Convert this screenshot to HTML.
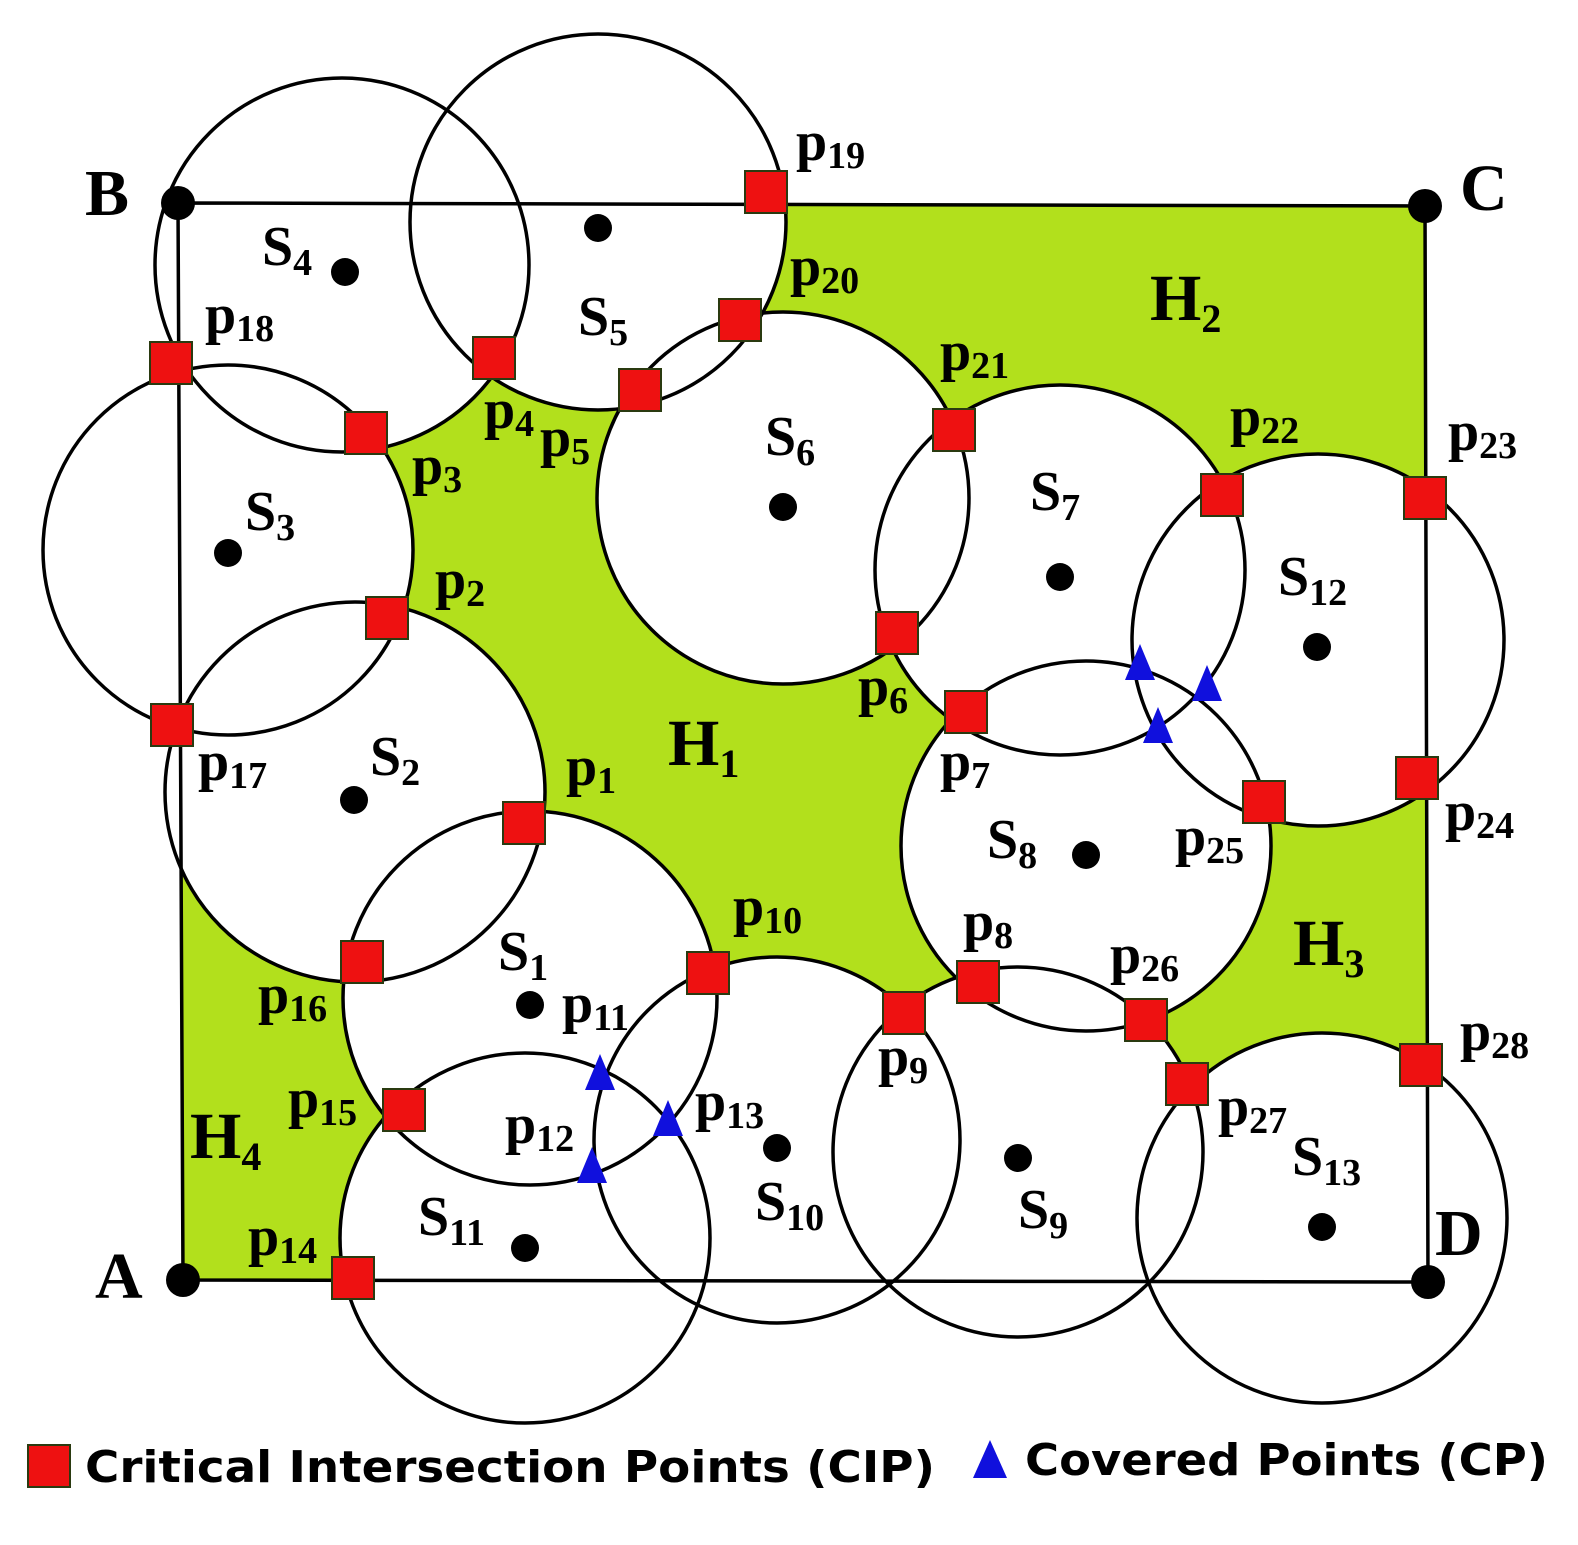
<!DOCTYPE html>
<html><head><meta charset="utf-8"><style>
html,body{margin:0;padding:0;background:#fff;}
svg{display:block;}
.l{font-family:"Liberation Serif",serif;font-weight:bold;font-size:56px;fill:#000;}
.s{font-size:38px;}
.h{font-size:66px;}
.hs{font-size:40px;}
</style></head><body>
<svg width="1578" height="1545" viewBox="0 0 1578 1545" xmlns="http://www.w3.org/2000/svg">
<polygon points="183,1280 178,203 1425,206 1428,1282" fill="#b2e01c"/>
<g fill="#fff" stroke="none">
<circle cx="342" cy="265" r="187"/><circle cx="598" cy="222" r="188"/>
<circle cx="228" cy="550" r="185"/><circle cx="355" cy="792" r="190"/>
<circle cx="783" cy="498" r="186"/><circle cx="1060" cy="570" r="185"/>
<circle cx="1318" cy="640" r="186"/><circle cx="1086" cy="846" r="185"/>
<circle cx="530" cy="998" r="187"/><circle cx="525" cy="1238" r="185"/>
<circle cx="777" cy="1140" r="183"/><circle cx="1018" cy="1152" r="185"/>
<circle cx="1322" cy="1218" r="185"/>
</g>
<polygon points="183,1280 178,203 1425,206 1428,1282" fill="none" stroke="#000" stroke-width="3.5"/>
<g fill="none" stroke="#000" stroke-width="3.5">
<circle cx="342" cy="265" r="187"/><circle cx="598" cy="222" r="188"/>
<circle cx="228" cy="550" r="185"/><circle cx="355" cy="792" r="190"/>
<circle cx="783" cy="498" r="186"/><circle cx="1060" cy="570" r="185"/>
<circle cx="1318" cy="640" r="186"/><circle cx="1086" cy="846" r="185"/>
<circle cx="530" cy="998" r="187"/><circle cx="525" cy="1238" r="185"/>
<circle cx="777" cy="1140" r="183"/><circle cx="1018" cy="1152" r="185"/>
<circle cx="1322" cy="1218" r="185"/>
</g>
<g fill="#000">
<circle cx="345" cy="272" r="14"/><circle cx="598" cy="228" r="14"/><circle cx="228" cy="553" r="14"/>
<circle cx="354" cy="800" r="14"/><circle cx="783" cy="507" r="14"/><circle cx="1060" cy="577" r="14"/>
<circle cx="1317" cy="647" r="14"/><circle cx="1086" cy="855" r="14"/><circle cx="530" cy="1005" r="14"/>
<circle cx="777" cy="1148" r="14"/><circle cx="1018" cy="1158" r="14"/><circle cx="525" cy="1248" r="14"/>
<circle cx="1322" cy="1227" r="14"/>
<circle cx="183" cy="1280" r="17"/><circle cx="178" cy="203" r="17"/><circle cx="1425" cy="206" r="17"/><circle cx="1428" cy="1282" r="17"/>
</g>
<g fill="#ee1111" stroke="#2a3a10" stroke-width="2">
<rect x="503" y="802" width="42" height="42"/><rect x="366" y="597" width="42" height="42"/>
<rect x="345" y="412" width="42" height="42"/><rect x="473" y="337" width="42" height="42"/>
<rect x="619" y="369" width="42" height="42"/><rect x="876" y="612" width="42" height="42"/>
<rect x="945" y="691" width="42" height="42"/><rect x="957" y="961" width="42" height="42"/>
<rect x="883" y="992" width="42" height="42"/><rect x="687" y="952" width="42" height="42"/>
<rect x="332" y="1257" width="42" height="42"/><rect x="383" y="1089" width="42" height="42"/>
<rect x="341" y="941" width="42" height="42"/><rect x="151" y="704" width="42" height="42"/>
<rect x="150" y="342" width="42" height="42"/><rect x="745" y="171" width="42" height="42"/>
<rect x="719" y="299" width="42" height="42"/><rect x="933" y="409" width="42" height="42"/>
<rect x="1201" y="474" width="42" height="42"/><rect x="1404" y="477" width="42" height="42"/>
<rect x="1396" y="757" width="42" height="42"/><rect x="1243" y="781" width="42" height="42"/>
<rect x="1125" y="999" width="42" height="42"/><rect x="1166" y="1063" width="42" height="42"/>
<rect x="1400" y="1044" width="42" height="42"/>
<rect x="28" y="1445" width="42" height="42"/>
</g>
<g fill="#1010dd">
<polygon points="1140,644 1125,680 1155,680"/><polygon points="1207,665 1192,701 1222,701"/>
<polygon points="1158,707 1143,743 1173,743"/><polygon points="600,1054 585,1090 615,1090"/>
<polygon points="668,1100 653,1136 683,1136"/><polygon points="592,1147 577,1183 607,1183"/>
<polygon points="990,1440 973,1478 1007,1478"/>
</g>
<g class="l">
<text x="85" y="215" class="h">B</text><text x="1460" y="210" class="h">C</text>
<text x="95" y="1298" class="h">A</text><text x="1435" y="1255" class="h">D</text>
<text x="668" y="765" class="h">H<tspan class="hs" dy="12">1</tspan></text>
<text x="1150" y="320" class="h">H<tspan class="hs" dy="12">2</tspan></text>
<text x="1293" y="965" class="h">H<tspan class="hs" dy="12">3</tspan></text>
<text x="190" y="1158" class="h">H<tspan class="hs" dy="12">4</tspan></text>
<text x="262" y="265">S<tspan class="s" dy="10">4</tspan></text>
<text x="578" y="335">S<tspan class="s" dy="10">5</tspan></text>
<text x="245" y="530">S<tspan class="s" dy="10">3</tspan></text>
<text x="370" y="775">S<tspan class="s" dy="10">2</tspan></text>
<text x="765" y="455">S<tspan class="s" dy="10">6</tspan></text>
<text x="1030" y="510">S<tspan class="s" dy="10">7</tspan></text>
<text x="1278" y="595">S<tspan class="s" dy="10">12</tspan></text>
<text x="987" y="858">S<tspan class="s" dy="10">8</tspan></text>
<text x="498" y="970">S<tspan class="s" dy="10">1</tspan></text>
<text x="418" y="1235">S<tspan class="s" dy="10">11</tspan></text>
<text x="755" y="1220">S<tspan class="s" dy="10">10</tspan></text>
<text x="1018" y="1228">S<tspan class="s" dy="10">9</tspan></text>
<text x="1292" y="1175">S<tspan class="s" dy="10">13</tspan></text>
<text x="566" y="785">p<tspan class="s" dy="8">1</tspan></text>
<text x="435" y="598">p<tspan class="s" dy="8">2</tspan></text>
<text x="412" y="484">p<tspan class="s" dy="8">3</tspan></text>
<text x="484" y="428">p<tspan class="s" dy="8">4</tspan></text>
<text x="540" y="456">p<tspan class="s" dy="8">5</tspan></text>
<text x="858" y="705">p<tspan class="s" dy="8">6</tspan></text>
<text x="940" y="780">p<tspan class="s" dy="8">7</tspan></text>
<text x="963" y="940">p<tspan class="s" dy="8">8</tspan></text>
<text x="878" y="1075">p<tspan class="s" dy="8">9</tspan></text>
<text x="733" y="925">p<tspan class="s" dy="8">10</tspan></text>
<text x="562" y="1022">p<tspan class="s" dy="8">11</tspan></text>
<text x="505" y="1143">p<tspan class="s" dy="8">12</tspan></text>
<text x="695" y="1120">p<tspan class="s" dy="8">13</tspan></text>
<text x="248" y="1255">p<tspan class="s" dy="8">14</tspan></text>
<text x="288" y="1117">p<tspan class="s" dy="8">15</tspan></text>
<text x="258" y="1013">p<tspan class="s" dy="8">16</tspan></text>
<text x="198" y="780">p<tspan class="s" dy="8">17</tspan></text>
<text x="205" y="333">p<tspan class="s" dy="8">18</tspan></text>
<text x="796" y="160">p<tspan class="s" dy="8">19</tspan></text>
<text x="790" y="285">p<tspan class="s" dy="8">20</tspan></text>
<text x="940" y="370">p<tspan class="s" dy="8">21</tspan></text>
<text x="1230" y="435">p<tspan class="s" dy="8">22</tspan></text>
<text x="1448" y="450">p<tspan class="s" dy="8">23</tspan></text>
<text x="1445" y="830">p<tspan class="s" dy="8">24</tspan></text>
<text x="1175" y="855">p<tspan class="s" dy="8">25</tspan></text>
<text x="1110" y="973">p<tspan class="s" dy="8">26</tspan></text>
<text x="1218" y="1125">p<tspan class="s" dy="8">27</tspan></text>
<text x="1460" y="1050">p<tspan class="s" dy="8">28</tspan></text>
</g>
<g font-family="'DejaVu Sans',sans-serif" font-weight="bold" font-size="44" fill="#000">
<text x="85" y="1482" textLength="850" lengthAdjust="spacingAndGlyphs">Critical Intersection Points (CIP)</text>
<text x="1025" y="1475" textLength="523" lengthAdjust="spacingAndGlyphs">Covered Points (CP)</text>
</g>
</svg>
</body></html>
